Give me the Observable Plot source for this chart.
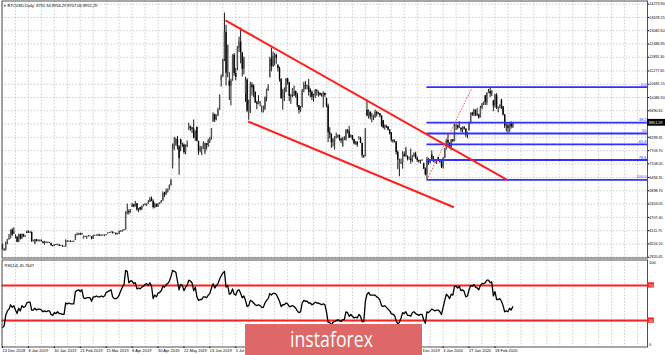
<!DOCTYPE html>
<html><head><meta charset="utf-8">
<script src="https://cdn.jsdelivr.net/npm/d3@7"></script>
<script src="https://cdn.jsdelivr.net/npm/@observablehq/plot@0.6"></script>
<style>
html,body{margin:0;padding:0;background:#fff;}
#wrap{position:relative;width:665px;height:355px;overflow:hidden;background:#fff;}
#main,#rsi{position:absolute;left:0;}
#main{top:0;}
#rsi{top:258px;}
#wm{position:absolute;left:245px;top:324px;width:177px;height:31px;background:#de6767;}
#wm svg{display:block;}
</style></head><body>
<div id="wrap"><div id="main"></div><div id="rsi"></div>
<div id="wm"><svg width="177" height="31"><text x="45" y="22.5" fill="#fff" font-family="Open Sans, Lato, sans-serif" font-size="22" textLength="83" lengthAdjust="spacingAndGlyphs">instaforex</text></svg></div>
</div>
<script>
// ---------- text ----------
const headerText = "BTCUSD,Daily  8731.34 8956.29 8707.06 8951.29";
const rsiTitle = "RSI(14) 45.7647";
const dateLabels = ["13 Dec 2018","8 Jan 2019","30 Jan 2019","21 Feb 2019","15 Mar 2019","8 Apr 2019","30 Apr 2019","22 May 2019","13 Jun 2019","5 Jul 2019","29 Jul 2019","20 Aug 2019","11 Sep 2019","3 Oct 2019","25 Oct 2019","18 Nov 2019","10 Dec 2019","3 Jan 2020","27 Jan 2020","18 Feb 2020"];
const labelBars = [0,16,32,48,64,80,96,112,128,144,160,176,192,208,224,240,256,272,288,304];
const priceTicks = [14273.90,13678.25,13082.60,12486.95,11891.30,11277.65,10681.55,10086.30,9490.65,8895.00,8299.35,7703.70,7108.05,6494.35,5898.70,5303.05,4707.40,4111.75,3516.10,2920.45];
const gridBars = [0,8,16,24,32,40,48,56,64,72,80,88,96,104,112,120,128,136,144,152,160,168,176,184,192,200,208,216,224,232,240,248,256,264,272,280,288,296,304,312,320,328,336,344,352,360,368,376,384,392];

// ---------- daily bars (weekdays, 13 Dec 2018 .. 4 Mar 2020) ----------
const open = [
3490,3260,3240,3550,3700,3750,4130,3950,3800,3820,3590,3940,
3740,3940,3840,4040,4000,4010,4030,3630,3510,3700,3620,3660,3680,3600,3540,3580,3560,3580,3530,3440,3410,3470,
3450,3470,3420,3430,3390,3380,3640,3610,3630,3610,3600,3680,3900,3930,3960,3920,3750,3850,3830,3850,
3850,3820,3740,3880,3880,3900,3920,3880,3900,3880,3890,3990,3990,4020,4040,3990,3990,3940,3950,4080,4060,
4110,4140,4880,4970,4910,5190,5270,5190,5320,5040,5150,5040,5200,5240,5280,5310,5380,5520,5420,5150,5290,5170,
5290,5350,5440,5800,5710,5870,5940,6140,6980,7800,7990,8200,7870,8180,8000,7960,7620,7880,8670,8780,8720,8660,8270,
8740,8120,7690,7780,7800,7630,8010,7930,8140,8230,8990,9320,9080,9270,9520,10850,11010,11790,13020,11180,
10820,10590,10830,11980,11160,11470,12300,12570,12100,11350,10260,10870,9480,9740,10640,10590,10320,9850,9780,9880,9530,9530,9530,
10090,10410,10980,11810,11480,11940,11970,11530,11390,10900,10050,10300,10320,10920,10760,10130,10180,10140,10360,10190,9720,9500,
9630,10380,10620,10590,10580,10410,10320,10100,10160,10390,10320,10270,10190,10160,10270,10040,9700,8500,8440,8060,8060,
8300,8340,8390,8230,7880,8210,8190,8600,8570,8300,8370,8200,8000,8080,8220,8230,8020,7470,7430,9520,9260,9430,9210,
9200,9180,9410,9340,9360,9260,9040,8720,8800,8760,8630,8500,8170,8120,8080,7620,6920,7150,7170,7520,7430,
7420,7320,7320,7250,7450,7540,7350,7260,7220,7240,7110,6880,6620,7280,7150,7510,7330,7200,7200,7390,7260,
7190,6960,7360,7760,8160,8040,7820,8180,8110,8810,8820,8720,8710,8630,8730,8670,8380,8600,8910,9380,9300,9510,
9340,9290,9180,9610,9760,10160,9850,10270,10360,10240,9930,9700,10180,9600,9610,9970,9670,9300,8790,8810,8550,8910,8731.34];
const high = [
3510,3300,3600,3720,3940,4140,4200,4240,3930,3860,3950,3950,
3960,3950,3880,4090,4110,4070,4060,3690,3720,3720,3700,3690,3690,3620,3630,3610,3600,3590,3550,3450,3480,3490,
3500,3480,3440,3440,3410,3700,3660,3650,3660,3630,3650,3940,4000,3990,4000,3990,3870,3860,3860,3900,
3880,3840,3900,3910,3920,3950,3930,3910,3910,3920,3940,4020,4030,4060,4060,4010,4000,3970,4090,4090,4130,
4160,4950,5300,5050,5060,5340,5280,5420,5330,5110,5160,5220,5280,5320,5320,5460,5600,5620,5500,5350,5300,5330,
5370,5460,5850,5830,5980,5980,6160,6420,8000,8300,8260,8340,7930,8220,8040,8000,7950,8140,8930,8800,8740,9080,8590,
8760,8120,7900,7880,8100,8040,8020,8210,8300,8700,9400,9340,9300,9600,10200,11100,11800,13880,13330,12440,
11200,10900,12000,12060,11400,12370,12800,13200,12100,11900,11000,10930,9970,10770,10750,10660,10330,9920,10170,9890,9710,9700,10110,
10460,10660,11890,12300,12130,12060,12030,11560,11450,10930,10450,10520,10930,10950,10760,10230,10490,10600,10380,10280,9730,9680,
10450,10770,10800,10640,10900,10480,10380,10230,10450,10440,10370,10290,10270,10340,10290,10060,9790,8730,8450,8250,8330,
8490,8390,8400,8240,8300,8330,8650,8650,8790,8410,8380,8210,8110,8100,8330,8300,8040,7480,8690,9980,9530,9440,9380,
9300,9520,9460,9420,9370,9260,9060,8860,8820,8780,8650,8510,8180,8180,8110,7690,7320,7320,7650,7640,7850,
7470,7420,7780,7480,7600,7630,7420,7280,7270,7300,7140,6930,7400,7360,7220,7690,7440,7280,7270,7410,7300,
7210,7400,7800,8200,8450,8050,8200,8200,8880,8890,8840,9000,8720,8770,8790,8670,8520,8980,9390,9420,9560,9530,
9600,9340,9690,9830,9880,10170,10300,10450,10520,10390,9960,10230,10260,9660,9760,10000,9670,9330,8960,8900,8950,8990,8956.29];
const low = [
3240,3180,3200,3480,3690,3740,3860,3940,3740,3570,3580,3690,
3720,3810,3800,3990,3980,3990,3580,3600,3500,3610,3610,3600,3600,3520,3460,3550,3540,3530,3400,3380,3400,3440,
3440,3400,3400,3370,3370,3370,3590,3580,3590,3580,3590,3670,3880,3900,3900,3910,3740,3810,3720,3820,
3830,3700,3730,3850,3870,3850,3860,3850,3870,3840,3880,3950,3980,4000,3960,3980,3900,3920,3940,4040,4050,
4100,4140,4820,4820,4900,5150,5140,5170,4980,4920,5000,5030,5180,5230,5200,5300,5370,5410,5080,5100,5150,5160,
5280,5340,5430,5600,5700,5800,5930,6110,6880,7700,7900,7730,6600,7650,7840,7540,7520,7840,8600,8570,8470,8230,8120,
8100,7490,7600,7480,7760,7520,7730,7850,8020,8180,8970,8960,9040,9230,9520,10550,10990,11700,10600,10980,
9950,9710,10820,11040,10840,11280,12100,11600,11000,11100,9870,9400,9070,9370,10150,10080,9820,9540,9760,9670,9400,9390,9520,
9890,10360,10960,11240,11440,11500,11580,11230,10780,10000,9520,9900,10300,10640,9900,9780,10080,10130,10050,9630,9340,9420,
9620,10300,10440,10420,10150,10070,9950,9870,10050,10150,10100,10150,10100,9620,10090,9620,8060,8230,7800,7860,7730,
8220,8260,8120,8010,7850,8150,8130,8450,8240,8270,8140,7960,7940,7850,8180,8020,7360,7360,7430,9220,9120,9080,8950,
9050,9150,9210,9300,9170,8750,8680,8620,8700,8580,8400,8080,8030,8050,7510,6850,6530,7080,6870,7420,7410,
7240,7270,7100,7170,7400,7310,7170,7140,7100,7220,6860,6560,6400,7040,7110,7270,7160,7150,7080,7220,7130,
6900,6870,7350,7730,7880,7780,7700,8060,8100,8600,8640,8700,8520,8490,8620,8300,8240,8580,8880,9240,9220,9230,
9230,9110,9170,9540,9730,9730,9730,10260,10080,10130,9450,9610,9550,9400,9580,9550,9260,8690,8540,8460,8530,8670,8707.06];
const close = [
3260,3230,3550,3700,3750,4130,3900,4050,3820,3590,3900,3740,
3940,3840,3860,4000,4010,4030,3630,3630,3700,3620,3660,3680,3630,3540,3580,3560,3580,3570,3440,3410,3470,3450,
3480,3420,3430,3390,3380,3620,3610,3630,3610,3600,3610,3900,3930,3960,3920,3980,3850,3830,3850,3850,
3860,3740,3880,3880,3900,3880,3880,3900,3880,3890,3930,3990,4020,4040,3990,4000,3940,3950,4080,4060,4110,
4140,4880,4970,4910,5040,5270,5190,5320,5040,5070,5040,5200,5240,5280,5270,5380,5520,5420,5150,5260,5170,5290,
5350,5440,5750,5710,5870,5940,6140,6350,7800,7990,8200,7870,7350,8000,7960,7620,7880,7990,8780,8720,8660,8270,8550,
8120,7690,7780,7800,8000,8010,7930,8140,8230,8690,9320,9080,9270,9520,10160,11010,11790,13020,11180,12410,
10590,10830,11980,11160,10980,12300,12570,12100,11350,11810,10870,9480,9740,10640,10530,10320,9850,9780,9880,9850,9530,9530,10090,
10410,10540,11810,11480,11940,11970,11850,11390,10900,10050,10300,10350,10920,10760,10130,10180,10480,10360,10190,9720,9500,9580,
10380,10620,10590,10580,10320,10320,10100,10160,10390,10360,10270,10190,10160,10270,10180,9700,8500,8440,8060,8200,8300,
8340,8390,8230,8150,8210,8190,8600,8570,8270,8370,8200,8000,8080,7960,8230,8020,7470,7430,8660,9260,9430,9210,9200,
9260,9410,9340,9360,9260,8800,8720,8800,8760,8630,8460,8170,8120,8080,7620,7280,7150,7170,7520,7430,7760,
7320,7320,7250,7450,7550,7350,7260,7220,7240,7250,6880,6620,7280,7150,7190,7330,7250,7200,7250,7260,7190,
6960,7340,7760,8160,8040,7820,8190,8110,8810,8820,8720,8900,8630,8730,8670,8380,8430,8910,9380,9300,9510,9350,
9290,9180,9610,9760,9800,9850,10270,10360,10240,10370,9700,10180,9600,9610,9690,9670,9300,8790,8810,8710,8910,8760,8951.29];
const rsi = [
22,24,36,41,43,48,45,47,42,38,44,41,
47,45,46,50,51,51,42,42,44,42,43,43,42,40,41,40,41,41,37,36,39,38,
40,38,38,37,37,50,49,50,49,49,49,63,64,65,63,65,56,55,56,56,
56,52,57,57,58,57,57,58,57,58,62,63,64,65,57,55,55,56,59,64,68,
71,87,86,73,75,75,72,73,66,67,66,68,69,71,72,70,73,69,55,59,57,61,
62,64,69,68,71,72,75,80,87,86,85,75,65,71,70,64,68,70,76,75,73,64,68,
57,53,54,54,57,57,56,59,61,67,72,67,70,72,77,81,84,86,68,70,
60,61,66,60,59,64,65,61,56,58,53,46,47,53,52,50,48,47,48,47,45,45,50,
53,55,61,59,61,61,60,56,52,46,48,48,50,49,46,46,47,46,44,41,39,40,
50,53,52,52,50,50,48,49,51,50,50,49,48,49,48,40,28,28,25,28,29,
30,31,30,29,31,31,40,39,35,37,35,33,34,33,37,35,29,29,52,60,62,59,59,
59,59,57,56,53,47,46,47,45,43,41,38,37,36,30,26,28,33,39,38,40,
36,36,35,39,40,38,37,36,37,37,31,27,40,39,41,43,42,41,42,42,40,
37,45,53,60,58,55,60,59,69,69,67,69,64,65,63,57,58,65,70,69,71,68,
67,65,70,72,72,73,76,76,73,74,58,63,54,54,55,52,47,40,41,40,44,42,45.76];

// ---------- drawn objects ----------
const fibNames = ["0.0","38.2","50","61.8","78.6","100.0"];
const fibPrices = [10550,8962,8472,7982,7283,6394];
const fibStartBar = 262;
const fibAnchorBars = [262,290];
const fibAnchorPrices = [6394,10550];
const trendBar1 = [137.65,151.7];
const trendPrice1 = [13543,9011];
const trendBar2 = [311.5,278.6];
const trendPrice2 = [6394,5164];
const rsiLevels = [70,30];
const lastPrice = 8951.29;

// ---------- build ----------
const bars = close.map((c,i)=>({i, o:open[i], h:high[i], l:low[i], c, r:rsi[i]}));
const fib = fibNames.map((n,k)=>({name:n, p:fibPrices[k]}));
const trends = trendBar1.map((b,k)=>({b1:b, p1:trendPrice1[k], b2:trendBar2[k], p2:trendPrice2[k]}));
const anchor = [{b1:fibAnchorBars[0], p1:fibAnchorPrices[0], b2:fibAnchorBars[1], p2:fibAnchorPrices[1]}];

const xDomain = [0, 398.15];
const xRange = [2, 647];
const gridStyle = {stroke:"#c4c4c4", strokeWidth:0.8, strokeDasharray:"1.6,1.6"};
const font = "Liberation Sans, Arial, sans-serif";
const red = "#ff1f1f";
const blue = "#3030ff";

const main = Plot.plot({
  width:665, height:258,
  marginLeft:1.5, marginRight:18, marginTop:0.5, marginBottom:0.5,
  style:{fontFamily:font, fontSize:"4px", background:"transparent", overflow:"visible"},
  x:{type:"linear", domain:xDomain, range:xRange, axis:null, label:null},
  y:{type:"linear", domain:[2920.45,14273.90], range:[256.7,3.7], label:null},
  marks:[
    Plot.ruleX(gridBars, {x:d=>d, ...gridStyle}),
    Plot.ruleY(priceTicks, {y:d=>d, ...gridStyle}),
    Plot.ruleX(bars, {x:"i", y1:"l", y2:"h", stroke:"#000", strokeWidth:0.9}),
    Plot.ruleX(bars, {filter:d=>d.c>=d.o, x:"i", y1:"o", y2:"c", stroke:"#555", strokeWidth:1.4}),
    Plot.ruleX(bars, {filter:d=>d.c<d.o, x:"i", y1:"o", y2:"c", stroke:"#000", strokeWidth:1.4}),
    Plot.ruleY(fib, {y:"p", x1:fibStartBar, x2:xDomain[1], stroke:blue, strokeWidth:1.8}),
    Plot.text(fib, {y:"p", text:"name", frameAnchor:"right", textAnchor:"end", dx:-1, dy:-2.6, fill:blue, fontSize:4}),
    Plot.link(anchor, {x1:"b1", y1:"p1", x2:"b2", y2:"p2", stroke:red, strokeWidth:0.8, strokeDasharray:"1.5,1.5"}),
    Plot.link(trends, {x1:"b1", y1:"p1", x2:"b2", y2:"p2", stroke:red, strokeWidth:2}),
    Plot.frame({stroke:"#505050", strokeWidth:1}),
    Plot.axisY({anchor:"right", ticks:priceTicks, tickFormat:d=>d.toFixed(2), tickSize:1.2, tickPadding:0.6, fontSize:3.7, label:null}),
    Plot.rect([lastPrice], {x1:xDomain[1], x2:xDomain[1]+11.2, y1:p=>p-152, y2:p=>p+152, fill:"#000"}),
    Plot.text([lastPrice], {y:d=>d, text:d=>d.toFixed(2), frameAnchor:"right", textAnchor:"start", dx:1.5, fill:"#fff", fontSize:3.7}),
    Plot.text(["\u25BC"], {text:d=>d, frameAnchor:"top-left", textAnchor:"start", dx:1.2, dy:3.6, fontSize:3, fill:"#000"}),
    Plot.text([headerText], {text:d=>d, frameAnchor:"top-left", textAnchor:"start", dx:5.5, dy:3.6, fontSize:4, fill:"#000"})
  ]
});
document.getElementById("main").appendChild(main);

const rsiChart = Plot.plot({
  width:665, height:97,
  marginLeft:1.5, marginRight:18, marginTop:1.5, marginBottom:8.5,
  style:{fontFamily:font, fontSize:"4px", background:"transparent", overflow:"visible"},
  x:{type:"linear", domain:xDomain, range:xRange, label:null},
  y:{type:"linear", domain:[0,100], range:[88.5,0.5], axis:null, label:null},
  marks:[
    Plot.ruleX(gridBars, {x:d=>d, ...gridStyle}),
    Plot.ruleY(rsiLevels, {y:d=>d, stroke:red, strokeWidth:2}),
    Plot.lineY(bars, {x:"i", y:"r", stroke:"#000", strokeWidth:1.3}),
    Plot.frame({stroke:"#505050", strokeWidth:1}),
    Plot.axisX({anchor:"bottom", ticks:labelBars, tickFormat:d=>dateLabels[labelBars.indexOf(d)], tickSize:1.5, tickPadding:0.3, textAnchor:"start", fontSize:4, label:null}),
    Plot.rect(rsiLevels, {x1:xDomain[1], x2:xDomain[1]+4.2, y1:d=>d-3, y2:d=>d+3, fill:red}),
    Plot.text(rsiLevels, {y:d=>d, text:d=>String(d), frameAnchor:"right", textAnchor:"start", dx:1.3, fill:"#fff", fontSize:3.5}),
    Plot.text([100], {y:d=>d, text:d=>String(d), frameAnchor:"right", textAnchor:"start", dx:1.5, dy:3.5, fill:"#000", fontSize:4}),
    Plot.text([0], {y:d=>d, text:d=>String(d), frameAnchor:"right", textAnchor:"start", dx:1.5, dy:-2.5, fill:"#000", fontSize:4}),
    Plot.text([rsiTitle], {text:d=>d, frameAnchor:"top-left", textAnchor:"start", dx:2.5, dy:3.8, fontSize:4, fill:"#000"})
  ]
});
document.getElementById("rsi").appendChild(rsiChart);
</script>
</body></html>
